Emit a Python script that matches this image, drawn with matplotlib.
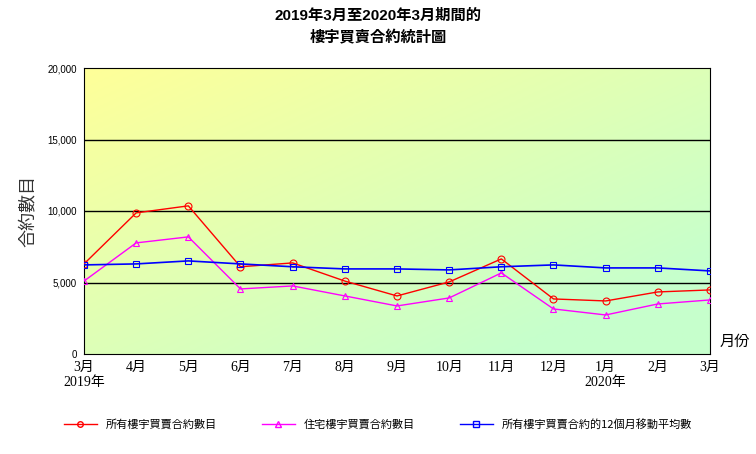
import matplotlib
matplotlib.use("Agg")
import matplotlib.pyplot as plt
import numpy as np
from matplotlib.lines import Line2D

CJK = ['Noto Sans CJK TC', 'Noto Sans CJK JP', 'Noto Sans CJK SC']
plt.rcParams['font.family'] = ['Liberation Sans'] + CJK
SERIF = ['Liberation Serif'] + CJK

months = ["3月\n2019年","4月","5月","6月","7月","8月","9月","10月","11月","12月","1月\n2020年","2月","3月"]
all_flats = [6300,9870,10360,6100,6370,5100,4060,5040,6650,3850,3710,4340,4480]
residential = [5100,7770,8190,4550,4760,4060,3360,3920,5670,3150,2730,3500,3780]
moving_avg = [6230,6300,6510,6300,6100,5950,5950,5880,6100,6230,6020,6020,5810]
yticks = [0,5000,10000,15000,20000]

fig = plt.figure(figsize=(7.56,4.54), dpi=100)
ax = fig.add_axes([84/756, 1-354/454, (710-84)/756, (354-68)/454])
x = np.arange(len(months))
yy, xx = np.mgrid[0:1:100j, 0:1:100j]
t = np.clip((xx*0.6 + yy*0.6), 0, 1)[..., None]
c1 = np.array([1.0,1.0,0.6]); c2 = np.array([0.78,1.0,0.8])
g = c1*(1-t)+c2*t
ax.imshow(g, extent=[0,12,0,20000], aspect='auto', zorder=0, origin='upper')
for v in [5000,10000,15000]:
    ax.axhline(v, color='black', lw=1, zorder=1)
ax.plot(x, all_flats, color='red', lw=1, marker='o', mfc='none', ms=5, mew=0.8, zorder=3)
ax.plot(x, residential, color='magenta', lw=1, marker='^', mfc='none', ms=5, mew=0.8, zorder=3)
ax.plot(x, moving_avg, color='blue', lw=1.2, marker='s', mfc='none', ms=5, mew=0.8, zorder=3)
ax.set_xlim(0,12); ax.set_ylim(0,20000)
ax.set_xticks(x)
ax.set_xticklabels(months, fontfamily=SERIF, fontsize=10)
ax.set_yticks(yticks)
ax.set_yticklabels([f"{v:,}" for v in yticks], fontsize=7)
ax.tick_params(length=0, pad=5)
for s in ax.spines.values(): s.set_linewidth(0.8)
ax.set_ylabel("合約數目", fontsize=13, color='#333333', labelpad=8, fontfamily=CJK)
fig.text(720/756, 1-341/454, "月份", fontsize=11, va='center', fontfamily=CJK)
fig.text(0.5, 1-20/454, "2019年3月至2020年3月期間的", ha='center', fontsize=11, fontweight='bold')
fig.text(0.5, 1-42/454, "樓宇買賣合約統計圖", ha='center', fontsize=11, fontweight='bold', fontfamily=CJK)
handles = [Line2D([],[],color='red',marker='o',mfc='none',ms=4,lw=1),
           Line2D([],[],color='magenta',marker='^',mfc='none',ms=4,lw=1),
           Line2D([],[],color='blue',marker='s',mfc='none',ms=4,lw=1)]
labels = ["所有樓宇買賣合約數目","住宅樓宇買賣合約數目","所有樓宇買賣合約的12個月移動平均數"]
fig.legend(handles, labels, loc='center', bbox_to_anchor=(0.5, 1-424/454), ncol=3, frameon=False,
           fontsize=8, handlelength=3, columnspacing=4, prop={'family': CJK, 'size': 8})
fig.savefig("out.png", dpi=100)
